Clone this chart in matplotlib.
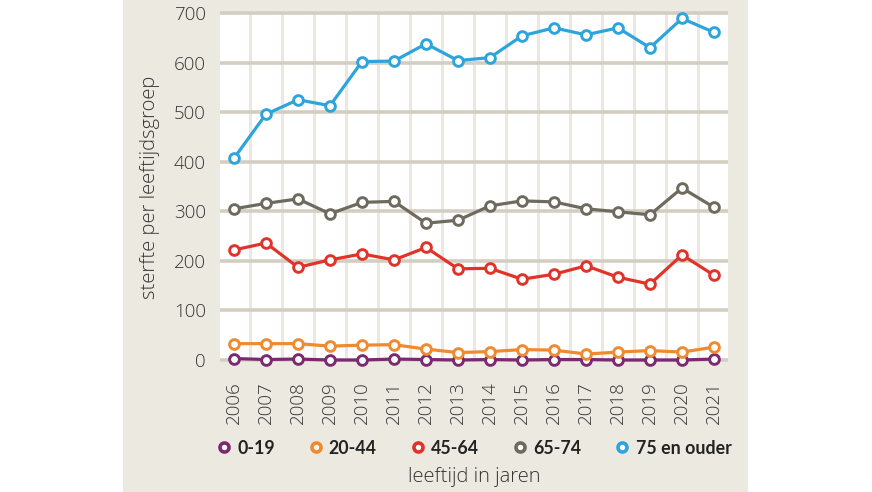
import matplotlib
matplotlib.use("Agg")
import matplotlib.pyplot as plt
from matplotlib.lines import Line2D
from matplotlib.patches import Rectangle
import numpy as np

years = list(range(2006, 2022))
year_labels = [str(y) for y in years]
series_names = ["0-19", "20-44", "45-64", "65-74", "75 en ouder"]
v_0_19 = [3, 1, 2, 0, 0, 2, 1, 0, 1, 0, 1, 1, 0, 0, 0, 2]
v_20_44 = [33, 33, 33, 28, 30, 31, 22, 15, 17, 21, 20, 12, 16, 19, 16, 26]
v_45_64 = [222, 236, 187, 202, 214, 202, 227, 184, 185, 163, 173, 190, 167, 153, 212, 171]
v_65_74 = [305, 316, 325, 295, 318, 320, 276, 282, 311, 321, 319, 305, 299, 293, 347, 308]
v_75plus = [407, 496, 525, 513, 602, 603, 638, 604, 610, 654, 670, 656, 670, 630, 689, 661]
yticks = [0, 100, 200, 300, 400, 500, 600, 700]

colors = ["#7b2a70", "#f08a2c", "#e2332a", "#6f6a5e", "#2ea4dc"]
all_series = [v_0_19, v_20_44, v_45_64, v_65_74, v_75plus]

BEIGE = "#ece9e1"
TXT = "#333333"
LIGHT = 300
FAM = "Open Sans"

fig = plt.figure(figsize=(8.72, 4.92), dpi=100)
fig.patch.set_facecolor("white")
fig.patches.append(Rectangle((123 / 872, 0), (748 - 123) / 872, 1,
                             transform=fig.transFigure, facecolor=BEIGE,
                             edgecolor="none", zorder=-5))

ax = fig.add_axes([220 / 872, 1 - 362 / 492, 508 / 872, 349 / 492])
ax.set_zorder(2)
ax.set_facecolor("white")
ax.set_xlim(2005.5625, 2021.4375)
ax.set_ylim(-4, 700)

# gridlines
for xv in np.arange(2006.5, 2021.0, 1.0):
    ax.axvline(xv, color="#ece8df", lw=2.2, zorder=1)
for yv in yticks:
    ax.plot([2005.5625, 2021.4375], [yv, yv], color="#d4cec2", lw=2.6,
            zorder=1.5, clip_on=False, solid_capstyle="butt")

for vals, c in zip(all_series, colors):
    ax.plot(years, vals, color=c, lw=2.3, marker="o", markersize=7,
            markerfacecolor="white", markeredgecolor=c, markeredgewidth=2.1,
            zorder=3, clip_on=False)

for s in ax.spines.values():
    s.set_visible(False)
ax.tick_params(length=0)
ax.set_yticks(yticks)
ax.set_yticklabels([str(t) for t in yticks], fontsize=13.5, color=TXT,
                   family=FAM, fontweight=LIGHT)
ax.tick_params(axis="y", pad=10)
ax.set_xticks(years)
ax.set_xticklabels(year_labels, rotation=90, fontsize=13.5, color=TXT,
                   family=FAM, fontweight=LIGHT, va="top")
ax.tick_params(axis="x", pad=14)

fig.text(150 / 872, 1 - 187 / 492, "sterfte per leeftijdsgroep", rotation=90,
         ha="center", va="center", fontsize=14.5, color=TXT, family=FAM,
         fontweight=LIGHT, zorder=3)
fig.text(474 / 872, 1 - 477 / 492, "leeftijd in jaren", ha="center",
         va="center", fontsize=14.5, color=TXT, family=FAM, fontweight=LIGHT,
         zorder=3)

handles = [Line2D([], [], ls="none", marker="o", markersize=6.5,
                  markerfacecolor="white", markeredgecolor=c,
                  markeredgewidth=2.6) for c in colors]
leg = fig.legend(handles, series_names, loc="center", ncol=5,
                 bbox_to_anchor=(475 / 872, 1 - 448 / 492), frameon=False,
                 handlelength=0.6, handletextpad=0.45, columnspacing=2.0,
                 prop={"family": "Lato", "weight": "bold", "size": 12.8})
leg.set_zorder(3)
for t in leg.get_texts():
    t.set_color("#222222")

fig.savefig("out.png", dpi=100, facecolor="white")
